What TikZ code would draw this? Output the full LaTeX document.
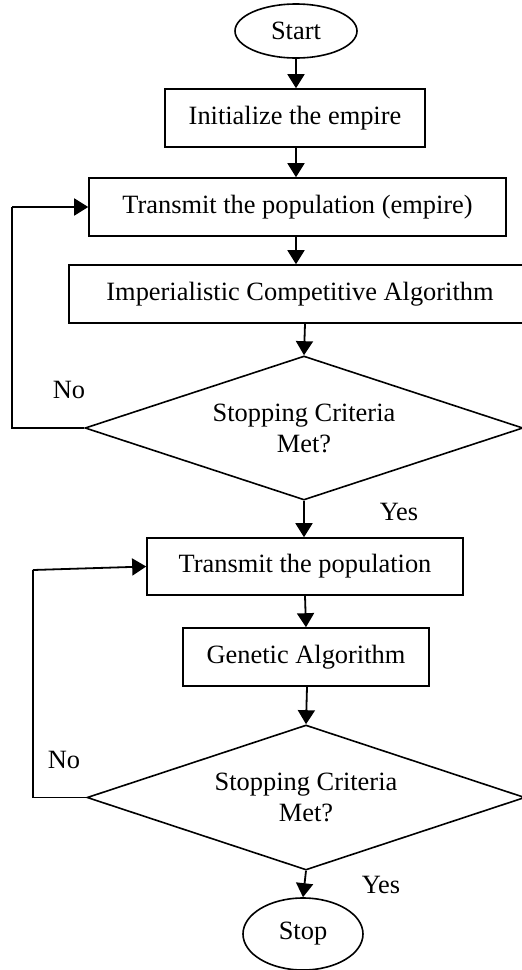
\documentclass[tikz,border=0pt]{standalone}
\usepackage{fontspec}
\setmainfont{Liberation Serif}
\usetikzlibrary{shapes.geometric,arrows.meta}
\begin{document}
\begin{tikzpicture}[x=1pt,y=-1pt,
  every node/.style={font=\fontsize{26.4}{31}\selectfont, inner sep=0pt},
  procbox/.style={draw, line width=1.6pt, rectangle, minimum height=58pt, align=center},
  terminal/.style={draw, line width=1.6pt, ellipse},
  decision/.style={draw, line width=1.6pt, diamond, aspect=3, minimum width=438pt, minimum height=144pt, align=center},
  flow/.style={line width=1.8pt, -{Triangle[length=14pt,width=17pt]}},
  plain/.style={line width=1.8pt}]
\useasboundingbox (0,0) rectangle (522,970);

% stage 1: imperialistic competitive algorithm
\node[terminal, minimum width=122pt, minimum height=54pt] (start) at (296,31) {Start};
\node[procbox, minimum width=260pt] (init) at (295,118) {Initialize the empire};
\node[procbox, minimum width=417pt] (trans1) at (297.5,207) {Transmit the population (empire)};
\node[procbox, minimum width=462pt] (ica) at (300,294) {Imperialistic Competitive Algorithm};
\node[decision] (dia1) at (304,428) {Stopping Criteria\\Met?};
\node (no1) at (69,390) {No};
\node (yes1) at (399,512) {Yes};

% stage 2: genetic algorithm
\node[procbox, minimum width=316pt, minimum height=57pt] (pop) at (305,566.5) {Transmit the population};
\node[procbox, minimum width=246pt] (ga) at (306,657) {Genetic Algorithm};
\node[decision, minimum height=145pt] (dia2) at (306,797.5) {Stopping Criteria\\Met?};
\node (no2) at (64,760) {No};
\node (yes2) at (381,885) {Yes};
\node[terminal, minimum width=120pt, minimum height=72pt] (stop) at (303,934) {Stop};

% columns of the feedback loops
\coordinate (loop1) at (12,0);
\coordinate (loop2) at (33,0);

% main flow
\draw[flow] (start.south) -- (start.south |- init.north);
\draw[flow] (init.south -| start.south) -- (start.south |- trans1.north);
\draw[flow] (trans1.south -| start.south) -- (start.south |- ica.north);
\draw[flow] (ica.south -| 305,0) -- (dia1.north);
\draw[flow] (dia1.south) -- (dia1.south |- pop.north);
\draw[flow] (pop.south) -- (ga.north);
\draw[flow] (ga.south -| 307,0) -- (dia2.north);
\draw[flow] (dia2.south) -- (stop.north);

% "No" loops
\draw[plain] (dia1.west) -- (dia1.west -| loop1) -- (trans1.west -| loop1);
\draw[flow] (trans1.west -| loop1) -- (trans1.west);
\draw[plain] (dia2.west) -- (dia2.west -| loop2) -- (loop2 |- 0,570);
\draw[flow] (loop2 |- 0,570) -- (pop.west);
\end{tikzpicture}
\end{document}
